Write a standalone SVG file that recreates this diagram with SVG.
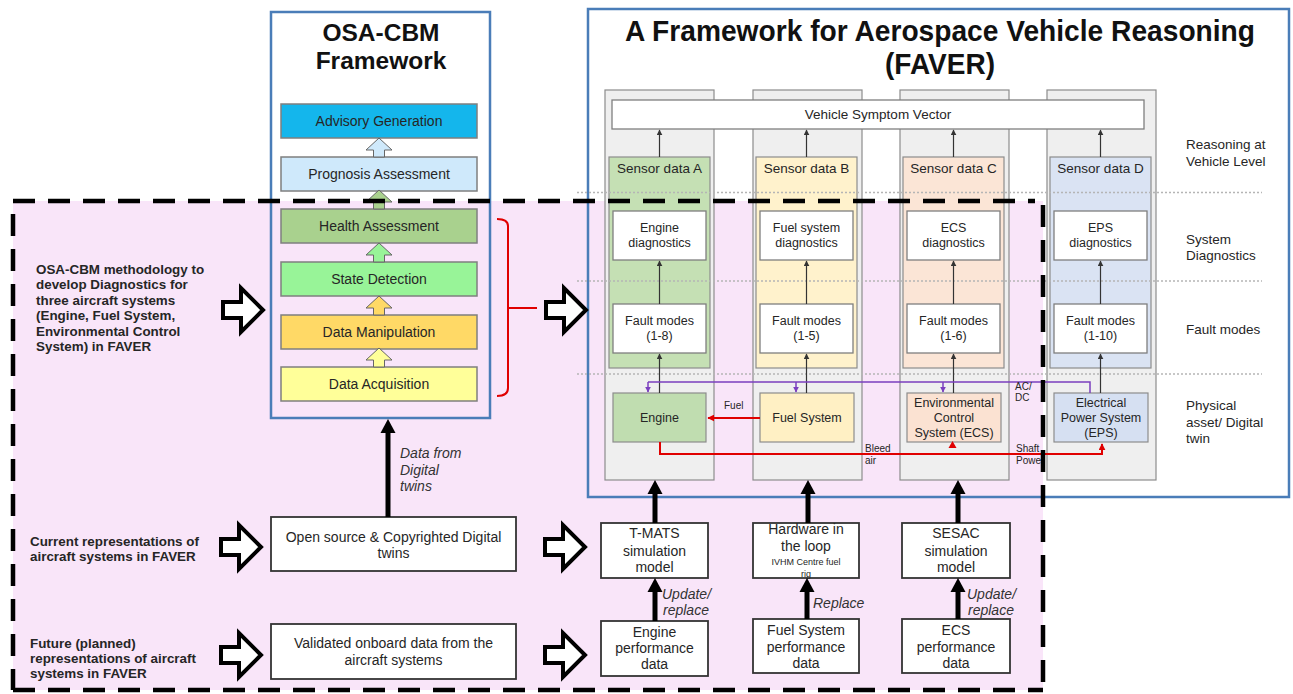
<svg xmlns="http://www.w3.org/2000/svg" width="1293" height="694" viewBox="0 0 1293 694">
  <style>
    text { font-family: "Liberation Sans", Arial, sans-serif; fill: #262626; }
    .c { text-anchor: middle; }
    .t135 { font-size: 13.5px; }
    .lay { font-size: 14px; }
    .t125 { font-size: 12.5px; }
    .t14 { font-size: 14px; }
    .t10 { font-size: 10px; }
    .b13 { font-size: 13.4px; font-weight: bold; }
    .it { font-style: italic; font-size: 14px; fill: #333; }
    .frame { fill: none; stroke: #4a7db8; stroke-width: 2.5; }
    .layer { stroke: #7f7f7f; stroke-width: 1.5; }
    .col { fill: #efefef; stroke: #8c8c8c; stroke-width: 1.2; }
    .panel { stroke: #8c8c8c; stroke-width: 1.2; }
    .wbox { fill: #ffffff; stroke: #7f7f7f; stroke-width: 1.3; }
    .bbox { fill: #ffffff; stroke: #333; stroke-width: 1.8; }
    .sep { stroke: #b5b5b5; stroke-width: 1.5; stroke-dasharray: 2 2; fill: none; }
    .thin { stroke: #333; stroke-width: 1.2; fill: none; }
    .purple { stroke: #7b3fbf; stroke-width: 1.5; fill: none; }
    .red { stroke: #e00000; stroke-width: 2; fill: none; }
    .thick { stroke: #000; stroke-width: 5; fill: none; }
    .hollow { fill: #ffffff; stroke: #000; stroke-width: 4; stroke-linejoin: miter; }
    .dash { stroke: #000; stroke-width: 4.5; stroke-dasharray: 22 13; fill: none; }
  </style>
  <defs>
    <marker id="ahK" viewBox="0 0 10 10" refX="9" refY="5" markerWidth="6" markerHeight="6" markerUnits="userSpaceOnUse" orient="auto">
      <path d="M0,0 L10,5 L0,10 z" fill="#333"/>
    </marker>
    <marker id="ahP" viewBox="0 0 10 10" refX="9" refY="5" markerWidth="6" markerHeight="6" markerUnits="userSpaceOnUse" orient="auto">
      <path d="M0,0 L10,5 L0,10 z" fill="#7b3fbf"/>
    </marker>
    <marker id="ahR" viewBox="0 0 10 10" refX="9" refY="5" markerWidth="7" markerHeight="7" markerUnits="userSpaceOnUse" orient="auto">
      <path d="M0,0 L10,5 L0,10 z" fill="#e00000"/>
    </marker>
    <!-- small up block arrow between OSA-CBM layers, tip at origin -->
    <path id="upArrow" d="M0,0 L13,12 L5.5,12 L5.5,19 L-5.5,19 L-5.5,12 L-13,12 Z" stroke="#666" stroke-width="1"/>
    <!-- hollow right block arrow, origin at left middle -->
    <path id="rightArrow" d="M0,-8 L18,-8 L18,-22 L40,0 L18,22 L18,8 L0,8 Z"/>
    <!-- thick black up arrow head, tip at origin -->
    <path id="bigHead" d="M-7.5,14 L0,0 L7.5,14 Z" fill="#000"/>
  </defs>

  <!-- scope of the diagnostics work -->
  <rect x="13" y="201" width="1030" height="489" fill="#f9e5f9"/>

  <!-- OSA-CBM framework -->
  <g id="osa-cbm">
    <rect class="frame" x="271" y="12" width="219" height="406"/>
    <text x="381" y="41" class="c" style="font-size:24.5px;font-weight:bold;fill:#111">OSA-CBM</text>
    <text x="381" y="69" class="c" style="font-size:24.5px;font-weight:bold;fill:#111">Framework</text>
  </g>
  <g id="layer-advisory">
    <rect class="layer" x="281" y="104" width="196" height="34" fill="#14b6ec"/>
    <text x="379" y="125.9" class="c lay">Advisory Generation</text>
  </g>
  <g id="layer-prognosis">
    <rect class="layer" x="281" y="157" width="196" height="34" fill="#cfe9fb"/>
    <text x="379" y="178.9" class="c lay">Prognosis Assessment</text>
  </g>
  <g id="layer-health">
    <rect class="layer" x="281" y="209" width="196" height="34" fill="#a9d18e"/>
    <text x="379" y="230.9" class="c lay">Health Assessment</text>
  </g>
  <g id="layer-state">
    <rect class="layer" x="281" y="262" width="196" height="34" fill="#98f498"/>
    <text x="379" y="283.9" class="c lay">State Detection</text>
  </g>
  <g id="layer-manipulation">
    <rect class="layer" x="281" y="315" width="196" height="34" fill="#ffd966"/>
    <text x="379" y="336.9" class="c lay">Data Manipulation</text>
  </g>
  <g id="layer-acquisition">
    <rect class="layer" x="281" y="367" width="196" height="34" fill="#ffff99"/>
    <text x="379" y="388.9" class="c lay">Data Acquisition</text>
  </g>

  <!-- FAVER framework -->
  <g id="faver">
    <rect class="frame" x="588" y="9" width="701" height="488"/>
    <text x="940" y="41" class="c" style="font-size:29px;font-weight:bold;fill:#111" textLength="630" lengthAdjust="spacingAndGlyphs">A Framework for Aerospace Vehicle Reasoning</text>
    <text x="940" y="74" class="c" style="font-size:29px;font-weight:bold;fill:#111" textLength="110" lengthAdjust="spacingAndGlyphs">(FAVER)</text>
  </g>

  <!-- system columns -->
  <g id="col-a"><rect class="col" x="605" y="90" width="109" height="390"/></g>
  <g id="col-b"><rect class="col" x="753" y="90" width="109" height="390"/></g>
  <g id="col-c"><rect class="col" x="900" y="90" width="109" height="390"/></g>
  <g id="col-d"><rect class="col" x="1047" y="90" width="109" height="390"/></g>

  <g id="symptom-vector">
    <rect class="wbox" x="612" y="100" width="532" height="29"/>
    <text x="878" y="119" class="c t135">Vehicle Symptom Vector</text>
  </g>

  <g id="sensor-a">
    <rect class="panel" x="609" y="157" width="101" height="211" fill="#c5e0b4"/>
    <text x="659.5" y="173" class="c t135">Sensor data A</text>
  </g>
  <g id="sensor-b">
    <rect class="panel" x="756" y="157" width="101" height="211" fill="#fff2cc"/>
    <text x="806.5" y="173" class="c t135">Sensor data B</text>
  </g>
  <g id="sensor-c">
    <rect class="panel" x="903" y="157" width="101" height="211" fill="#fbe5d6"/>
    <text x="953.5" y="173" class="c t135">Sensor data C</text>
  </g>
  <g id="sensor-d">
    <rect class="panel" x="1050" y="157" width="101" height="211" fill="#dae3f3"/>
    <text x="1100.5" y="173" class="c t135">Sensor data D</text>
  </g>

  <!-- level separators -->
  <g id="separators">
    <line class="sep" x1="577" y1="192.5" x2="1262" y2="192.5"/>
    <line class="sep" x1="577" y1="281" x2="1262" y2="281"/>
    <line class="sep" x1="577" y1="374" x2="1262" y2="374"/>
  </g>

  <g id="diag-a">
    <rect class="wbox" x="613" y="211" width="93" height="49"/>
    <text x="659.5" y="232.4" class="c t125">Engine</text>
    <text x="659.5" y="247.4" class="c t125">diagnostics</text>
  </g>
  <g id="diag-b">
    <rect class="wbox" x="760" y="211" width="93" height="49"/>
    <text x="806.5" y="232.4" class="c t125">Fuel system</text>
    <text x="806.5" y="247.4" class="c t125">diagnostics</text>
  </g>
  <g id="diag-c">
    <rect class="wbox" x="907" y="211" width="93" height="49"/>
    <text x="953.5" y="232.4" class="c t125">ECS</text>
    <text x="953.5" y="247.4" class="c t125">diagnostics</text>
  </g>
  <g id="diag-d">
    <rect class="wbox" x="1054" y="211" width="93" height="49"/>
    <text x="1100.5" y="232.4" class="c t125">EPS</text>
    <text x="1100.5" y="247.4" class="c t125">diagnostics</text>
  </g>

  <g id="fault-a">
    <rect class="wbox" x="613" y="304" width="93" height="49"/>
    <text x="659.5" y="325.4" class="c t125">Fault modes</text>
    <text x="659.5" y="340.4" class="c t125">(1-8)</text>
  </g>
  <g id="fault-b">
    <rect class="wbox" x="760" y="304" width="93" height="49"/>
    <text x="806.5" y="325.4" class="c t125">Fault modes</text>
    <text x="806.5" y="340.4" class="c t125">(1-5)</text>
  </g>
  <g id="fault-c">
    <rect class="wbox" x="907" y="304" width="93" height="49"/>
    <text x="953.5" y="325.4" class="c t125">Fault modes</text>
    <text x="953.5" y="340.4" class="c t125">(1-6)</text>
  </g>
  <g id="fault-d">
    <rect class="wbox" x="1054" y="304" width="93" height="49"/>
    <text x="1100.5" y="325.4" class="c t125">Fault modes</text>
    <text x="1100.5" y="340.4" class="c t125">(1-10)</text>
  </g>

  <g id="asset-engine">
    <rect class="panel" x="613" y="393" width="93" height="49" fill="#c0ddb0"/>
    <text x="659.5" y="422.4" class="c t125">Engine</text>
  </g>
  <g id="asset-fuel">
    <rect class="panel" x="760" y="393" width="94" height="49" fill="#fff0c4"/>
    <text x="807" y="422.4" class="c t125">Fuel System</text>
  </g>
  <g id="asset-ecs">
    <rect class="panel" x="907" y="393" width="94" height="49" fill="#fbe2d2"/>
    <text x="954" y="407.4" class="c t125">Environmental</text>
    <text x="954" y="422.4" class="c t125">Control</text>
    <text x="954" y="437.4" class="c t125">System (ECS)</text>
  </g>
  <g id="asset-eps">
    <rect class="panel" x="1054" y="393" width="94" height="49" fill="#d6e0f2"/>
    <text x="1101" y="407.4" class="c t125">Electrical</text>
    <text x="1101" y="422.4" class="c t125">Power System</text>
    <text x="1101" y="437.4" class="c t125">(EPS)</text>
  </g>

  <!-- level names -->
  <g id="level-labels">
    <text x="1186" y="149" class="t135">Reasoning at</text>
    <text x="1186" y="166" class="t135">Vehicle Level</text>
    <text x="1186" y="244" class="t135">System</text>
    <text x="1186" y="260" class="t135">Diagnostics</text>
    <text x="1186" y="334" class="t135">Fault modes</text>
    <text x="1186" y="410" class="t135">Physical</text>
    <text x="1186" y="427" class="t135">asset/ Digital</text>
    <text x="1186" y="443" class="t135">twin</text>
  </g>

  <!-- bottom rows -->
  <g id="digital-twins">
    <rect class="bbox" x="271" y="517" width="245" height="54"/>
    <text x="393.5" y="542" class="c t14">Open source &amp; Copyrighted Digital</text>
    <text x="393.5" y="558" class="c t14">twins</text>
  </g>
  <g id="onboard-data">
    <rect class="bbox" x="271" y="624" width="245" height="55"/>
    <text x="393.5" y="648" class="c t14">Validated onboard data from the</text>
    <text x="393.5" y="665" class="c t14">aircraft systems</text>
  </g>
  <g id="tmats">
    <rect class="bbox" x="601" y="523" width="107" height="55"/>
    <text x="654.5" y="538" class="c t14">T-MATS</text>
    <text x="654.5" y="556" class="c t14">simulation</text>
    <text x="654.5" y="572" class="c t14">model</text>
  </g>
  <g id="hil">
    <rect class="bbox" x="753" y="523" width="106" height="55"/>
    <text x="806" y="534" class="c t14">Hardware in</text>
    <text x="806" y="551" class="c t14">the loop</text>
    <text x="806" y="565" class="c" style="font-size:9px">IVHM Centre fuel</text>
    <text x="806" y="577" class="c" style="font-size:9px">rig</text>
  </g>
  <g id="sesac">
    <rect class="bbox" x="902" y="523" width="108" height="55"/>
    <text x="956" y="538" class="c t14">SESAC</text>
    <text x="956" y="556" class="c t14">simulation</text>
    <text x="956" y="572" class="c t14">model</text>
  </g>
  <g id="engine-perf">
    <rect class="bbox" x="601" y="621" width="107" height="55"/>
    <text x="654.5" y="637" class="c t14">Engine</text>
    <text x="654.5" y="653" class="c t14">performance</text>
    <text x="654.5" y="669" class="c t14">data</text>
  </g>
  <g id="fuel-perf">
    <rect class="bbox" x="753" y="619" width="106" height="54"/>
    <text x="806" y="635" class="c t14">Fuel System</text>
    <text x="806" y="652" class="c t14">performance</text>
    <text x="806" y="668" class="c t14">data</text>
  </g>
  <g id="ecs-perf">
    <rect class="bbox" x="902" y="619" width="108" height="54"/>
    <text x="956" y="635" class="c t14">ECS</text>
    <text x="956" y="652" class="c t14">performance</text>
    <text x="956" y="668" class="c t14">data</text>
  </g>

  <!-- row descriptions -->
  <g id="row-labels">
    <text x="36" y="273.5" class="b13">OSA-CBM methodology to</text>
    <text x="36" y="289" class="b13">develop Diagnostics for</text>
    <text x="36" y="304.5" class="b13">three aircraft systems</text>
    <text x="36" y="320" class="b13">(Engine, Fuel System,</text>
    <text x="36" y="335.5" class="b13">Environmental Control</text>
    <text x="36" y="351" class="b13">System) in FAVER</text>
    <text x="30" y="546" class="b13">Current representations of</text>
    <text x="30" y="561" class="b13">aircraft systems in FAVER</text>
    <text x="30" y="648" class="b13">Future (planned)</text>
    <text x="30" y="663" class="b13">representations of aircraft</text>
    <text x="30" y="678" class="b13">systems in FAVER</text>
  </g>

  <g id="connectors">
    <!-- OSA-CBM layer flow -->
    <use href="#upArrow" x="379" y="138" fill="#cfe9fb"/>
    <use href="#upArrow" x="379" y="190" fill="#a9d18e"/>
    <use href="#upArrow" x="379" y="243" fill="#98f498"/>
    <use href="#upArrow" x="379" y="296" fill="#ffd966"/>
    <use href="#upArrow" x="379" y="348" fill="#ffff99"/>

    <!-- red bracket over the diagnostic layers -->
    <path class="red" d="M497,219 Q508,219 508,226 V388 Q508,396 497,396 M508,308 H537"/>

    <!-- FAVER thin flows -->
    <line class="thin" x1="659.5" y1="157" x2="659.5" y2="130" marker-end="url(#ahK)"/>
    <line class="thin" x1="806.5" y1="157" x2="806.5" y2="130" marker-end="url(#ahK)"/>
    <line class="thin" x1="953.5" y1="157" x2="953.5" y2="130" marker-end="url(#ahK)"/>
    <line class="thin" x1="1100.5" y1="157" x2="1100.5" y2="130" marker-end="url(#ahK)"/>
    <line class="thin" x1="659.5" y1="304" x2="659.5" y2="261" marker-end="url(#ahK)"/>
    <line class="thin" x1="806.5" y1="304" x2="806.5" y2="261" marker-end="url(#ahK)"/>
    <line class="thin" x1="953.5" y1="304" x2="953.5" y2="261" marker-end="url(#ahK)"/>
    <line class="thin" x1="1100.5" y1="304" x2="1100.5" y2="261" marker-end="url(#ahK)"/>
    <line class="thin" x1="659.5" y1="393" x2="659.5" y2="354" marker-end="url(#ahK)"/>
    <line class="thin" x1="806.5" y1="393" x2="806.5" y2="354" marker-end="url(#ahK)"/>
    <line class="thin" x1="953.5" y1="393" x2="953.5" y2="354" marker-end="url(#ahK)"/>
    <line class="thin" x1="1100.5" y1="393" x2="1100.5" y2="354" marker-end="url(#ahK)"/>

    <!-- AC/DC electrical supply -->
    <path class="purple" d="M1090,393 V382 H648"/>
    <line class="purple" x1="648" y1="382" x2="648" y2="392" marker-end="url(#ahP)"/>
    <line class="purple" x1="796" y1="382" x2="796" y2="392" marker-end="url(#ahP)"/>
    <line class="purple" x1="943" y1="382" x2="943" y2="392" marker-end="url(#ahP)"/>
    <text x="1015" y="390" class="t10">AC/</text>
    <text x="1015" y="401" class="t10">DC</text>

    <!-- fuel, bleed air and shaft power -->
    <line class="red" x1="760" y1="418" x2="708" y2="418" marker-end="url(#ahR)"/>
    <text x="724" y="409" class="t10">Fuel</text>
    <path class="red" d="M660,442 V454 H1102 V444" marker-end="url(#ahR)"/>
    <path d="M948.5,448 L952.5,441 L956.5,448 Z" fill="#e00000"/>
    <text x="865" y="452" class="t10">Bleed</text>
    <text x="865" y="464" class="t10">air</text>
    <text x="1016" y="452" class="t10">Shaft</text>
    <text x="1016" y="464" class="t10">Power</text>

    <!-- data sources feeding the frameworks -->
    <line class="thick" x1="388" y1="517" x2="388" y2="432"/>
    <use href="#bigHead" x="388" y="419"/>
    <text x="400" y="458" class="it">Data from</text>
    <text x="400" y="475" class="it">Digital</text>
    <text x="400" y="491" class="it">twins</text>

    <line class="thick" x1="655" y1="523" x2="655" y2="493"/>
    <use href="#bigHead" x="655" y="480"/>
    <line class="thick" x1="808" y1="523" x2="808" y2="493"/>
    <use href="#bigHead" x="808" y="480"/>
    <line class="thick" x1="958" y1="523" x2="958" y2="493"/>
    <use href="#bigHead" x="958" y="480"/>

    <line class="thick" x1="655" y1="621" x2="655" y2="591"/>
    <use href="#bigHead" x="655" y="578"/>
    <line class="thick" x1="807" y1="619" x2="807" y2="591"/>
    <use href="#bigHead" x="807" y="578"/>
    <line class="thick" x1="958" y1="619" x2="958" y2="591"/>
    <use href="#bigHead" x="958" y="578"/>
    <text x="662" y="599" class="it">Update/</text>
    <text x="663" y="615" class="it">replace</text>
    <text x="813" y="608" class="it">Replace</text>
    <text x="967" y="599" class="it">Update/</text>
    <text x="968" y="615" class="it">replace</text>

    <!-- hollow block arrows -->
    <use href="#rightArrow" class="hollow" x="223" y="310"/>
    <use href="#rightArrow" class="hollow" x="546" y="310"/>
    <use href="#rightArrow" class="hollow" x="221" y="547"/>
    <use href="#rightArrow" class="hollow" x="545" y="547"/>
    <use href="#rightArrow" class="hollow" x="221" y="655"/>
    <use href="#rightArrow" class="hollow" x="545" y="655"/>
  </g>

  <!-- dashed scope border -->
  <g id="scope-border">
    <line class="dash" x1="13" y1="201" x2="1035" y2="201"/>
    <line class="dash" x1="13" y1="214" x2="13" y2="690"/>
    <line class="dash" x1="13" y1="690" x2="1043" y2="690"/>
    <line class="dash" x1="1043" y1="205" x2="1043" y2="690"/>
  </g>
</svg>
